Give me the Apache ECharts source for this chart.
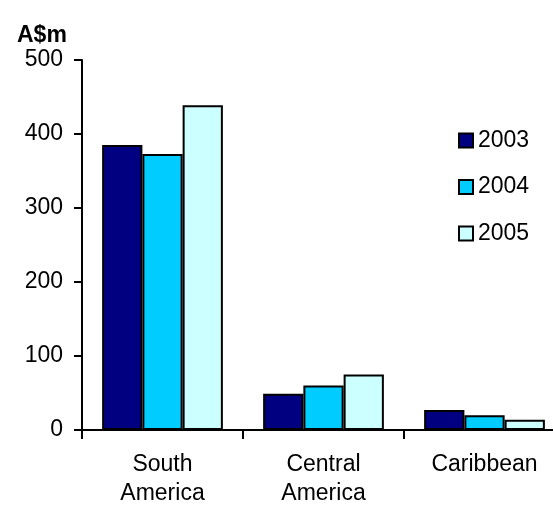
<!DOCTYPE html>
<html><head><meta charset="utf-8">
<script src="https://cdn.jsdelivr.net/npm/echarts@6/dist/echarts.min.js"></script>
<style>html,body{margin:0;padding:0;background:#fff;overflow:hidden}#c{width:566px;height:508px}</style>
</head><body><div id="c"></div>
<script>
const categories = ['South\nAmerica', 'Central\nAmerica', 'Caribbean'];
const years = ['2003', '2004', '2005'];
const values2003 = [385, 49, 27];
const values2004 = [373, 60, 20];
const values2005 = [439, 75, 14];
const yTicks = [0, 100, 200, 300, 400, 500];
const colors = ['#000080', '#00CCFF', '#CCFFFF'];
const FONT = 'Liberation Sans, Arial, sans-serif';

const chart = echarts.init(document.getElementById('c'), null, {renderer: 'canvas'});
const seriesData = [values2003, values2004, values2005];
chart.setOption({
  animation: false,
  title: {
    text: 'A$m', left: 12, top: 19,
    textStyle: {fontFamily: FONT, fontSize: 23, fontWeight: 'bold', color: '#000'}
  },
  legend: {
    orient: 'vertical', left: 453, top: 124,
    itemWidth: 14, itemHeight: 14, itemGap: 23.5,
    icon: 'rect',
    itemStyle: {borderColor: '#000', borderWidth: 2},
    textStyle: {fontFamily: FONT, fontSize: 23, color: '#000', lineHeight: 22},
    data: years
  },
  grid: {left: 82, right: 1, top: 60, bottom: 74, containLabel: false},
  xAxis: {
    type: 'category', data: categories,
    axisLine: {lineStyle: {color: '#000', width: 2}},
    axisTick: {show: true, length: 9, lineStyle: {color: '#000', width: 2}},
    axisLabel: {fontFamily: FONT, fontSize: 23, color: '#000', margin: 20, lineHeight: 29, interval: 0}
  },
  yAxis: {
    type: 'value', min: yTicks[0], max: yTicks[yTicks.length - 1], interval: 100,
    axisLine: {show: true, lineStyle: {color: '#000', width: 2}},
    axisTick: {show: true, length: 8, lineStyle: {color: '#000', width: 2}},
    splitLine: {show: false},
    axisLabel: {fontFamily: FONT, fontSize: 23, color: '#000', margin: 19}
  },
  series: years.map((y, i) => ({
    name: y, type: 'bar', data: seriesData[i],
    barGap: '0%', barCategoryGap: '25%',
    itemStyle: {color: colors[i], borderColor: '#000', borderWidth: 2}
  }))
});
</script></body></html>
